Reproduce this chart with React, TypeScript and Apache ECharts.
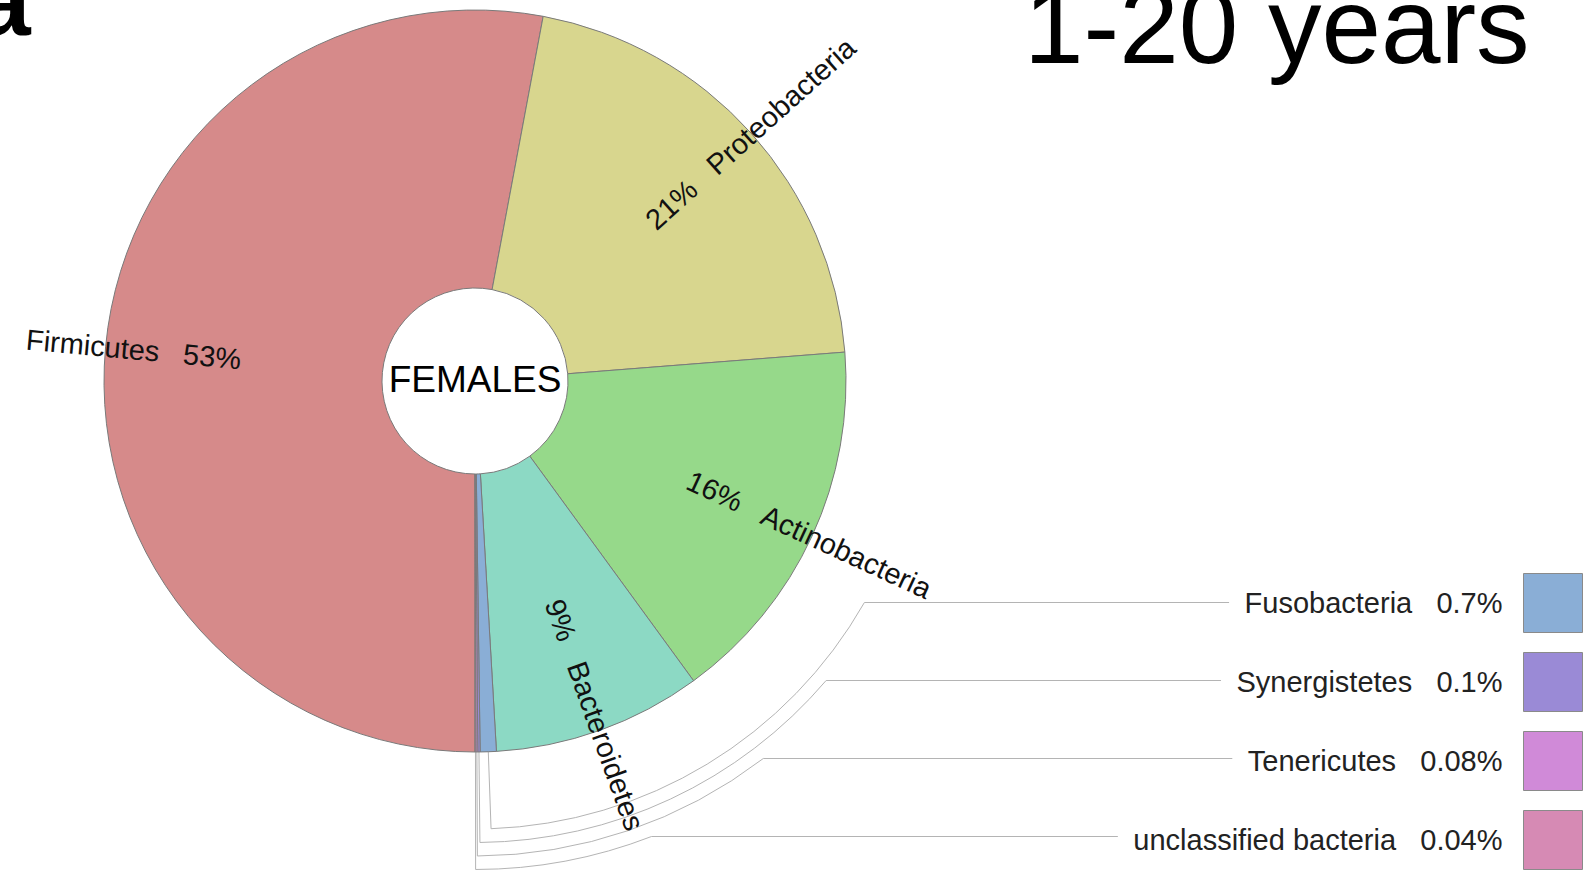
import React, { useEffect, useRef } from 'react';
import * as echarts from 'echarts';

// ---- data ----
const phyla = [
  'Firmicutes',
  'Proteobacteria',
  'Actinobacteria',
  'Bacteroidetes',
  'Fusobacteria',
  'Synergistetes',
  'Tenericutes',
  'unclassified bacteria',
];
const shares = [52.9, 20.8, 16.2, 9.1, 0.7, 0.1, 0.08, 0.04];
const shareLabels = ['53%', '21%', '16%', '9%', '0.7%', '0.1%', '0.08%', '0.04%'];
const sliceColors = ['#d68a8a', '#d8d68e', '#96d98a', '#8cd9c4', '#8aaed6', '#9a8ad6', '#d08ad8', '#d68ab4'];
const calloutPhyla = ['Fusobacteria', 'Synergistetes', 'Tenericutes', 'unclassified bacteria'];
const groupLabel = 'FEMALES';
const ageTitle = '1-20 years';
const panelLetter = 'a';

// ---- layout ----
const W = 1585;
const H = 878;
const CX = 475;
const CY = 381;
const R = 371;
const R0 = 93;
const LABEL_R = 302;
const LABEL_INSET = [0, 0, 0, 18]; // per-slice inward shift of the rotated label (px)
const FONT = "'Liberation Sans', Arial, Helvetica, sans-serif";
const FS = 29;
const ICON = 59;
const ICON_GAP = 19;
const LEG_TOP = 573;
const LEG_RIGHT = 2;
const LEAD_BASE = 448;
const LEAD_STEP = 13.5;
const LINE_COLOR = '#b4b4b4';

export default function App() {
  const ref = useRef<HTMLDivElement>(null);

  useEffect(() => {
    if (!ref.current) return;
    const chart = echarts.init(ref.current, null, { renderer: 'svg', width: W, height: H });

    const canvas = document.createElement('canvas');
    const ctx = canvas.getContext('2d')!;
    const measure = (t: string, fs: number) => {
      ctx.font = `${fs}px ${FONT}`;
      return ctx.measureText(t).width;
    };

    const total = shares.reduce((a, b) => a + b, 0);
    let cum = 0;
    // angle measured clockwise (on screen) from 6 o'clock, degrees
    const mids = shares.map((v) => {
      const m = ((cum + v / 2) / total) * 360;
      cum += v;
      return m;
    });
    const rad = (d: number) => (d * Math.PI) / 180;
    const pt = (theta: number, r: number) => [CX - r * Math.sin(rad(theta)), CY + r * Math.cos(rad(theta))];

    // rotated labels for big slices
    const labelData = shares.map((v, i) => {
      const isCallout = calloutPhyla.indexOf(phyla[i]) >= 0;
      if (isCallout) {
        return {
          value: v,
          name: 'lbl' + i,
          itemStyle: { color: 'rgba(0,0,0,0)', borderWidth: 0 },
          label: { show: false },
        };
      }
      const pct = shareLabels[i];
      const name = phyla[i];
      const pw = measure(pct, FS);
      const nw = measure(name, FS);
      const m = Math.max(pw, nw);
      const inset = 2 * (LABEL_INSET[i] || 0);
      const leftSide = Math.sin(rad(mids[i])) > 0;
      const base = { fontSize: FS, fontFamily: FONT, color: '#111' };
      const rich: any = {};
      let formatter: string;
      if (leftSide) {
        rich['n' + i] = { ...base, padding: [0, 12, 0, m - nw + inset] };
        rich['p' + i] = { ...base, padding: [0, m - pw, 0, 12] };
        formatter = `{n${i}|${name}}{p${i}|${pct}}`;
      } else {
        rich['p' + i] = { ...base, padding: [0, 12, 0, m - pw] };
        rich['n' + i] = { ...base, padding: [0, m - nw + inset, 0, 12] };
        formatter = `{p${i}|${pct}}{n${i}|${name}}`;
      }
      return {
        value: v,
        name: 'lbl' + i,
        itemStyle: { color: 'rgba(0,0,0,0)', borderWidth: 0 },
        label: { show: true, formatter, rich },
      };
    });

    // leader lines for the tiny slices
    const graphics: any[] = [];
    calloutPhyla.forEach((name, j) => {
      const k = phyla.indexOf(name);
      const thetaM = mids[k];
      const rLead = LEAD_BASE + LEAD_STEP * j;
      const labelY = LEG_TOP + j * (ICON + ICON_GAP) + ICON / 2;
      const p0 = pt(thetaM, R);
      const p1 = pt(thetaM, rLead);
      const thetaE = 360 - (Math.acos((labelY - CY) / rLead) * 180) / Math.PI;
      const p2 = pt(thetaE, rLead);
      const textW = measure(`${name}   ${shareLabels[k]}`, FS);
      const endX = W - LEG_RIGHT - ICON - 5 - 16 - textW - 16;
      const style = { stroke: LINE_COLOR, lineWidth: 1, fill: null };
      graphics.push({
        type: 'line',
        silent: true,
        z: 1,
        shape: { x1: p0[0], y1: p0[1], x2: p1[0], y2: p1[1] },
        style,
      });
      graphics.push({
        type: 'arc',
        silent: true,
        z: 1,
        shape: {
          cx: CX,
          cy: CY,
          r: rLead,
          startAngle: rad(thetaE + 90),
          endAngle: rad(thetaM + 90),
          clockwise: true,
        },
        style,
      });
      graphics.push({
        type: 'line',
        silent: true,
        z: 1,
        shape: { x1: p2[0], y1: labelY, x2: endX, y2: labelY },
        style,
      });
    });

    graphics.push({
      type: 'text',
      silent: true,
      z: 10,
      x: CX,
      y: 379,
      style: { text: groupLabel, fontSize: 37, fontFamily: FONT, fill: '#000', align: 'center', verticalAlign: 'middle' },
    });
    graphics.push({
      type: 'text',
      silent: true,
      z: 10,
      x: 1024,
      y: 26,
      style: { text: ageTitle, fontSize: 107, fontFamily: FONT, fill: '#000', align: 'left', verticalAlign: 'middle' },
    });
    graphics.push({
      type: 'text',
      silent: true,
      z: 10,
      x: -25,
      y: 0,
      style: {
        text: panelLetter,
        fontSize: 100,
        fontWeight: 'bold',
        fontFamily: FONT,
        fill: '#000',
        align: 'left',
        verticalAlign: 'middle',
      },
    });

    chart.setOption({
      animation: false,
      backgroundColor: '#ffffff',
      legend: {
        orient: 'vertical',
        right: LEG_RIGHT,
        top: LEG_TOP,
        align: 'right',
        icon: 'rect',
        itemWidth: ICON,
        itemHeight: ICON,
        itemGap: ICON_GAP,
        padding: 0,
        selectedMode: false,
        data: calloutPhyla,
        itemStyle: { borderColor: '#8a8a8a', borderWidth: 1 },
        formatter: (name: string) => `{t|${name}   ${shareLabels[phyla.indexOf(name)]}}`,
        textStyle: {
          rich: { t: { fontSize: FS, fontFamily: FONT, color: '#222', padding: [0, 16, 0, 0] } },
        },
      },
      graphic: graphics,
      series: [
        {
          type: 'pie',
          silent: true,
          radius: [R0, R],
          center: [CX, CY],
          startAngle: 270,
          clockwise: true,
          itemStyle: { borderColor: '#7a7a7a', borderWidth: 1 },
          label: { show: false },
          labelLine: { show: false },
          data: phyla.map((n, i) => ({ name: n, value: shares[i], itemStyle: { color: sliceColors[i] } })),
        },
        {
          type: 'pie',
          silent: true,
          radius: [0, LABEL_R * 2],
          center: [CX, CY],
          startAngle: 270,
          clockwise: true,
          z: 3,
          label: { show: true, position: 'inside', rotate: 'radial', fontSize: FS, fontFamily: FONT, color: '#111' },
          labelLine: { show: false },
          emphasis: { disabled: true },
          data: labelData,
        },
      ],
    });

    return () => chart.dispose();
  }, []);

  return <div ref={ref} style={{ position: 'fixed', left: 0, top: 0, width: W, height: H, background: '#fff' }} />;
}
